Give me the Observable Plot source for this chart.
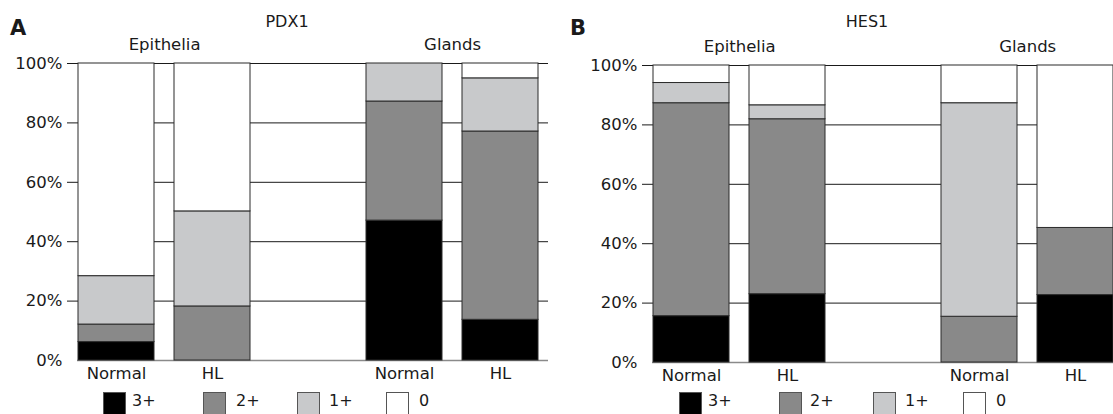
<!DOCTYPE html>
<html><head><meta charset="utf-8">
<script src="https://cdn.jsdelivr.net/npm/d3@7"></script>
<script src="https://cdn.jsdelivr.net/npm/@observablehq/plot@0.6"></script>
<style>
html,body{margin:0;padding:0;background:#fff;overflow:hidden;width:1113px;height:414px}
#root{position:relative;width:1113px;height:414px;font-family:"DejaVu Sans",Verdana,sans-serif;color:#1a1a1a;overflow:hidden}
.abs{position:absolute;line-height:1;white-space:nowrap}
.letter{font-weight:bold;font-size:21px}
.title{font-size:16px;transform:translateX(-50%)}
.sw{position:absolute;width:23px;height:23px;box-sizing:border-box;border:1px solid #555}
.lt{position:absolute;font-size:16px;line-height:1;white-space:nowrap}
.panel{position:absolute;top:0}
.panel svg{max-width:none !important;display:block}
</style></head><body><div id="root"></div><script>
// ---- data ----
const slots = ["Epithelia|Normal", "Epithelia|HL", "gap", "Glands|Normal", "Glands|HL"];
const bars = ["Epithelia|Normal", "Epithelia|HL", "Glands|Normal", "Glands|HL"];
const sampleLabels = ["Normal", "HL", "", "Normal", "HL"];
const groupLabels = ["Epithelia", "Glands"];
const groupFirstBar = ["Epithelia|Normal", "Glands|Normal"];
const grades = ["3+", "2+", "1+", "0"];
const gradeColors = ["#000000", "#898989", "#c8c9cb", "#ffffff"];
const yTicks = [0, 20, 40, 60, 80, 100];

// PDX1 (% of samples per staining grade)
const pdx1_3plus = [6.2, 0, 47.1, 13.7];
const pdx1_2plus = [5.9, 18.2, 40.1, 63.4];
const pdx1_1plus = [16.3, 32.0, 12.8, 17.9];
const pdx1_0 = [71.6, 49.8, 0, 5.0];

// HES1
const hes1_3plus = [15.6, 23.0, 0, 22.7];
const hes1_2plus = [71.7, 58.9, 15.4, 22.6];
const hes1_1plus = [6.8, 4.7, 71.9, 0];
const hes1_0 = [5.9, 13.4, 12.7, 54.7];

function rowsOf(series) {
  const rows = [];
  bars.forEach((b, i) => {
    grades.forEach((g, j) => {
      const v = series[j][i];
      if (v > 0) rows.push({bar: b, grade: g, value: v});
    });
  });
  return rows;
}

function panel(rows, o) {
  const step = (o.width - o.ml - o.mr) / slots.length;
  const groups = groupLabels.map((l, i) => ({label: l, first: groupFirstBar[i]}));
  return Plot.plot({
    width: o.width, height: 414,
    marginLeft: o.ml, marginRight: o.mr, marginTop: o.mt, marginBottom: o.mb,
    style: {fontFamily: "DejaVu Sans, Verdana, sans-serif", fontSize: "16px", color: "#1a1a1a", background: "transparent", overflow: "visible"},
    x: {domain: slots, paddingInner: 0.21, paddingOuter: 0.105, axis: null},
    y: {domain: [0, 100], axis: null},
    color: {domain: grades, range: gradeColors},
    marks: [
      Plot.ruleY(yTicks.filter(d => d > 0), {stroke: "#1a1a1a", strokeWidth: 1}),
      Plot.ruleY([0], {stroke: "#8a8a8a", strokeWidth: 1.5, insetLeft: 10}),
      Plot.barY(rows, {x: "bar", y: "value", fill: "grade", stroke: "#2b2b2b", strokeWidth: 1}),
      Plot.axisY({ticks: yTicks, tickSize: 0, tickPadding: 5, tickFormat: d => d + "%", fontSize: 16.5, label: null}),
      Plot.axisX({tickSize: 0, tickPadding: 7, tickFormat: d => sampleLabels[slots.indexOf(d)], fontSize: 16.5, label: null}),
      Plot.text(groups, {x: "first", text: "label", frameAnchor: "top", dx: step / 2, dy: -14, lineAnchor: "bottom", fontSize: 16.5, fill: "#1a1a1a"})
    ]
  });
}

const root = document.getElementById("root");
function addPanel(rows, o, letter, title, titleX, legendSw, legendTx) {
  const svg = panel(rows, o);
  const wrap = document.createElement("div");
  wrap.className = "panel";
  wrap.style.left = o.left + "px";
  wrap.style.width = o.width + "px";
  wrap.appendChild(svg);
  root.appendChild(wrap);
  const L = document.createElement("div");
  L.className = "abs letter"; L.textContent = letter;
  L.style.left = (o.left + 10) + "px"; L.style.top = "18px";
  root.appendChild(L);
  const T = document.createElement("div");
  T.className = "abs title"; T.textContent = title;
  T.style.left = titleX + "px"; T.style.top = "14px";
  root.appendChild(T);
  grades.forEach((g, i) => {
    const s = document.createElement("div");
    s.className = "sw"; s.style.background = gradeColors[i];
    s.style.left = legendSw[i] + "px"; s.style.top = "392px";
    root.appendChild(s);
    const t = document.createElement("div");
    t.className = "lt"; t.textContent = g;
    t.style.left = legendTx[i] + "px"; t.style.top = "393px";
    root.appendChild(t);
  });
}

addPanel(rowsOf([pdx1_3plus, pdx1_2plus, pdx1_1plus, pdx1_0]),
  {left: 0, width: 560, ml: 67, mr: 12, mt: 63, mb: 54},
  "A", "PDX1", 287, [103, 203, 297, 386], [132, 236, 329, 419]);
addPanel(rowsOf([hes1_3plus, hes1_2plus, hes1_1plus, hes1_0]),
  {left: 560, width: 576, ml: 82, mr: 12, mt: 65, mb: 52},
  "B", "HES1", 867, [679, 779, 873, 963], [708, 810, 905, 996]);
</script></body></html>
